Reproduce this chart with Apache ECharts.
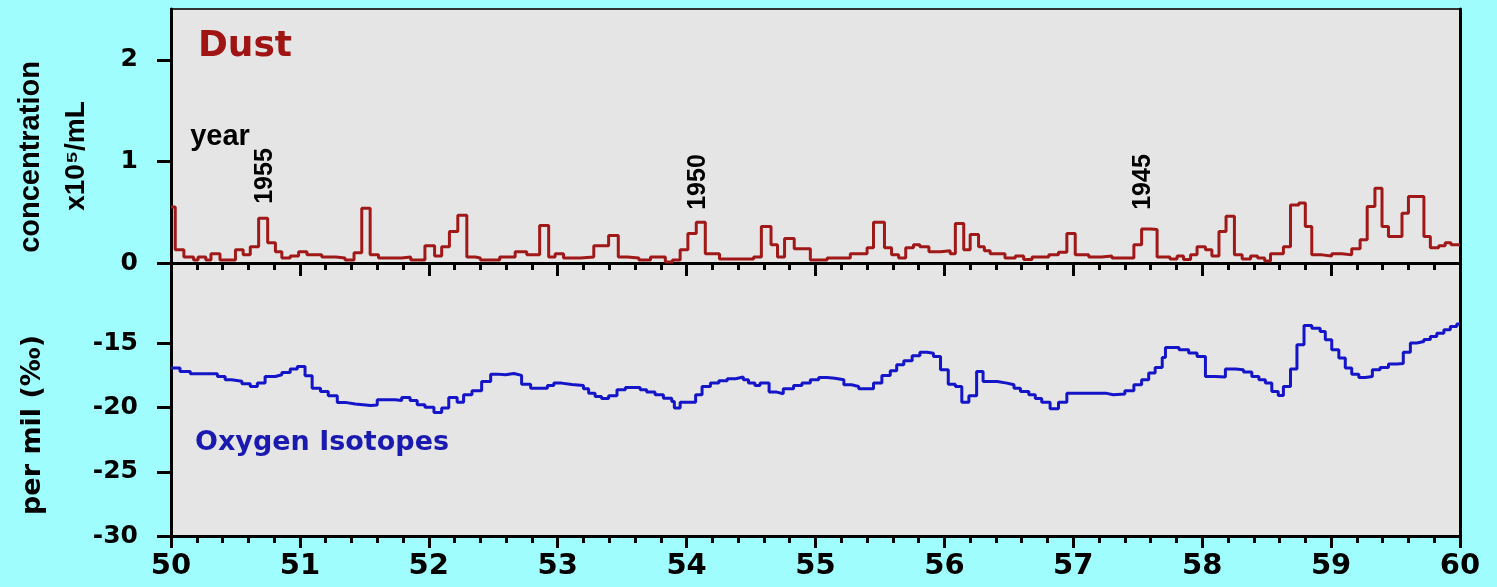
<!DOCTYPE html>
<html><head><meta charset="utf-8">
<script src="https://cdn.jsdelivr.net/npm/echarts@6/dist/echarts.min.js"></script>
<style>html,body{margin:0;padding:0;background:#9ffdfd;} #c{width:1497px;height:587px;}</style>
</head><body><div id="c"></div>
<script>
// ---- data ----
const xTickValues = [50, 51, 52, 53, 54, 55, 56, 57, 58, 59, 60];
const dustTickValues = [0, 1, 2];
const isoTickValues = [-30, -25, -20, -15];
const yearMarks = ['1955', '1950', '1945'];

const dustX = [50.00,50.033,50.10,50.175,50.21,50.27,50.31,50.38,50.50,50.56,50.615,50.68,50.75,50.81,50.86,50.925,50.99,51.055,51.17,51.28,51.35,51.42,51.48,51.545,51.61,51.79,51.86,51.97,52.045,52.10,52.16,52.225,52.295,52.36,52.40,52.55,52.67,52.76,52.86,52.93,52.98,53.045,53.175,53.28,53.395,53.47,53.54,53.63,53.72,53.835,53.89,53.95,54.01,54.075,54.145,54.255,54.52,54.58,54.655,54.705,54.76,54.835,54.96,55.09,55.27,55.40,55.45,55.535,55.59,55.645,55.70,55.76,55.81,55.88,55.97,56.045,56.085,56.15,56.20,56.265,56.31,56.355,56.47,56.55,56.615,56.68,56.81,56.885,56.95,57.015,57.12,57.22,57.30,57.47,57.53,57.60,57.65,57.75,57.805,57.855,57.91,57.96,58.025,58.075,58.13,58.185,58.25,58.31,58.375,58.43,58.485,58.53,58.63,58.685,58.75,58.80,58.85,58.93,59.005,59.085,59.16,59.225,59.28,59.34,59.395,59.445,59.55,59.60,59.72,59.77,59.835,59.885,59.93,60.00];
const dustVal = [0.55,0.13,0.06,0.03,0.06,0.03,0.09,0.03,0.13,0.08,0.16,0.44,0.20,0.11,0.05,0.07,0.11,0.08,0.06,0.05,0.03,0.10,0.54,0.08,0.05,0.06,0.03,0.17,0.07,0.16,0.31,0.47,0.06,0.05,0.03,0.06,0.11,0.08,0.37,0.06,0.09,0.05,0.06,0.17,0.27,0.06,0.05,0.03,0.06,0.01,0.03,0.13,0.29,0.40,0.09,0.04,0.06,0.36,0.18,0.06,0.24,0.14,0.03,0.05,0.09,0.15,0.40,0.15,0.08,0.05,0.15,0.18,0.16,0.11,0.12,0.09,0.39,0.13,0.28,0.16,0.12,0.09,0.05,0.07,0.035,0.06,0.08,0.105,0.29,0.08,0.06,0.07,0.05,0.18,0.335,0.33,0.06,0.04,0.07,0.035,0.08,0.16,0.13,0.07,0.31,0.46,0.08,0.04,0.07,0.05,0.02,0.09,0.16,0.57,0.59,0.36,0.08,0.07,0.09,0.08,0.14,0.23,0.555,0.735,0.36,0.26,0.49,0.655,0.26,0.15,0.17,0.20,0.18,0.18];

const isoX = [50.00,50.07,50.15,50.36,50.42,50.47,50.55,50.615,50.67,50.73,50.81,50.86,50.925,50.98,51.04,51.095,51.16,51.22,51.29,51.35,51.43,51.55,51.60,51.74,51.79,51.855,51.91,51.97,52.04,52.10,52.155,52.22,52.27,52.335,52.41,52.48,52.53,52.595,52.66,52.72,52.79,52.92,52.97,53.03,53.11,53.20,53.24,53.29,53.34,53.395,53.46,53.525,53.64,53.69,53.755,53.82,53.885,53.905,53.95,54.07,54.12,54.185,54.25,54.315,54.38,54.44,54.48,54.53,54.57,54.64,54.70,54.75,54.83,54.895,54.96,55.025,55.09,55.15,55.22,55.28,55.335,55.45,55.515,55.58,55.63,55.685,55.75,55.81,55.865,55.915,55.97,56.03,56.085,56.135,56.19,56.25,56.30,56.41,56.485,56.54,56.59,56.655,56.705,56.755,56.82,56.885,56.95,57.25,57.31,57.40,57.47,57.53,57.585,57.635,57.69,57.715,57.82,57.895,57.96,58.025,58.10,58.18,58.26,58.32,58.385,58.44,58.49,58.54,58.59,58.63,58.685,58.735,58.79,58.85,58.915,58.955,59.005,59.06,59.11,59.16,59.215,59.265,59.32,59.38,59.445,59.51,59.56,59.615,59.665,59.72,59.77,59.82,59.875,59.925,59.975,60.00];
const isoVal = [-16.93,-17.19,-17.37,-17.58,-17.84,-17.95,-18.15,-18.36,-18.10,-17.58,-17.45,-17.27,-17.00,-16.80,-17.53,-18.49,-18.75,-19.09,-19.60,-19.73,-19.84,-19.80,-19.40,-19.45,-19.22,-19.45,-19.79,-19.97,-20.38,-20.04,-19.22,-19.58,-19.00,-18.70,-17.97,-17.40,-17.45,-17.35,-17.50,-18.18,-18.49,-18.28,-18.10,-18.20,-18.28,-18.54,-18.88,-19.14,-19.30,-19.09,-18.62,-18.44,-18.62,-18.80,-19.00,-19.27,-19.53,-20.04,-19.58,-19.00,-18.36,-18.10,-17.92,-17.76,-17.63,-17.84,-18.10,-18.28,-18.10,-18.80,-18.93,-18.54,-18.28,-18.10,-17.84,-17.66,-17.72,-17.84,-18.23,-18.36,-18.54,-18.10,-17.50,-17.14,-16.67,-16.36,-15.97,-15.69,-15.77,-16.03,-17.06,-18.18,-18.36,-19.58,-19.09,-17.19,-17.97,-18.10,-18.23,-18.49,-18.75,-19.00,-19.30,-19.58,-20.10,-19.58,-18.88,-19.00,-18.95,-18.70,-18.23,-17.84,-17.32,-16.88,-16.10,-15.33,-15.50,-15.76,-16.03,-17.58,-17.62,-17.00,-17.05,-17.24,-17.58,-17.84,-18.10,-18.75,-19.06,-18.36,-17.00,-15.12,-13.61,-13.82,-14.08,-14.73,-15.51,-16.15,-16.93,-17.40,-17.66,-17.58,-17.06,-16.88,-16.62,-16.58,-15.69,-14.98,-14.86,-14.70,-14.47,-14.21,-13.95,-13.69,-13.50,-13.50];

// ---- chart ----
const dustData = dustX.map((x, i) => [x, dustVal[i]]);
const isoData = isoX.map((x, i) => [x, isoVal[i]]);

const chart = echarts.init(document.getElementById('c'), null, {renderer: 'canvas'});
const BOLD_D = 'DejaVu Sans';
const BOLD_L = 'Liberation Sans';
const NARROW = '"Liberation Sans Narrow", "Liberation Sans"';

function xAxisCfg(gi, showLabel) {
  return {
    gridIndex: gi, type: 'value', min: 50, max: 60, interval: 1,
    axisLine: {show: true, onZero: false, lineStyle: {color: '#000', width: 3}},
    axisTick: {show: true, length: showLabel ? 12 : 13, lineStyle: {color: '#000', width: 3}},
    minorTick: {show: true, splitNumber: 5, length: 7, lineStyle: {color: '#000', width: 3}},
    splitLine: {show: false}, minorSplitLine: {show: false},
    axisLabel: {show: showLabel, customValues: xTickValues, fontFamily: BOLD_D, fontWeight: 'bold', fontSize: 29, color: '#000', margin: 16}
  };
}
function yAxisCfg(gi, min, max, vals) {
  return {
    gridIndex: gi, type: 'value', min: min, max: max, position: 'left',
    axisLine: {show: true, onZero: false, lineStyle: {color: '#000', width: 3}},
    axisTick: {show: true, customValues: vals, length: 14, lineStyle: {color: '#000', width: 3}},
    axisLabel: {show: true, customValues: vals, fontFamily: BOLD_D, fontWeight: 'bold', fontSize: 25, color: '#000', margin: 33},
    splitLine: {show: false}
  };
}
function rightAxis(gi, min, max) {
  return {
    gridIndex: gi, type: 'value', min: min, max: max, position: 'right',
    axisLine: {show: true, onZero: false, lineStyle: {color: '#000', width: 3}},
    axisTick: {show: false}, axisLabel: {show: false}, splitLine: {show: false}
  };
}

const rotTxt = (x, y, text, size, family) => ({
  type: 'text', x: x, y: y, rotation: Math.PI / 2, silent: true,
  style: {text: text, fontFamily: family, fontWeight: 'bold', fontSize: size, fill: '#000', align: 'center', verticalAlign: 'middle'}
});

const option = {
  backgroundColor: '#9ffdfd',
  animation: false,
  grid: [
    {left: 171, top: 9, width: 1289, height: 254, show: true, backgroundColor: '#e5e5e5', borderColor: '#333', borderWidth: 2},
    {left: 171, top: 263, width: 1289, height: 273, show: true, backgroundColor: '#e5e5e5', borderColor: '#111', borderWidth: 2}
  ],
  xAxis: [xAxisCfg(0, false), xAxisCfg(1, true)],
  yAxis: [
    yAxisCfg(0, 0, 2.5, dustTickValues),
    yAxisCfg(1, -30, -8.75, isoTickValues),
    rightAxis(0, 0, 2.5),
    rightAxis(1, -30, -8.75)
  ],
  series: [
    {name: 'Dust', type: 'line', xAxisIndex: 0, yAxisIndex: 0, step: 'end', showSymbol: false, data: dustData,
     lineStyle: {color: '#a01818', width: 3}, z: 5},
    {name: 'Oxygen Isotopes', type: 'line', xAxisIndex: 1, yAxisIndex: 1, step: 'end', showSymbol: false, data: isoData,
     lineStyle: {color: '#1414c8', width: 3}, z: 5}
  ],
  graphic: [
    {type: 'text', x: 245, y: 47, silent: true,
     style: {text: 'Dust', fontFamily: BOLD_D, fontWeight: 'bold', fontSize: 36, fill: '#a01414', align: 'center', verticalAlign: 'middle'}},
    {type: 'text', x: 220, y: 137, silent: true,
     style: {text: 'year', fontFamily: BOLD_L, fontWeight: 'bold', fontSize: 29, fill: '#000', align: 'center', verticalAlign: 'middle'}},
    rotTxt(265, 176, yearMarks[0], 25, NARROW),
    rotTxt(698, 182, yearMarks[1], 25, NARROW),
    rotTxt(1143, 182, yearMarks[2], 25, NARROW),
    rotTxt(31, 157, 'concentration', 29, NARROW),
    rotTxt(76, 156, 'x10\u2075/mL', 28, NARROW + ', "DejaVu Sans"'),
    rotTxt(33, 425, 'per mil (\u2030)', 27, BOLD_D),
    {type: 'text', x: 322, y: 443, silent: true,
     style: {text: 'Oxygen Isotopes', fontFamily: BOLD_D, fontWeight: 'bold', fontSize: 27, fill: '#1a1ab0', align: 'center', verticalAlign: 'middle'}}
  ]
};
chart.setOption(option);
</script>
</body></html>
